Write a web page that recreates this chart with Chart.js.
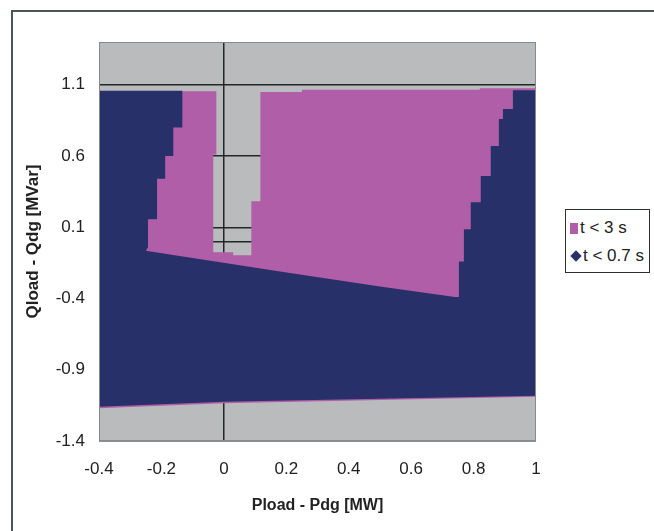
<!DOCTYPE html>
<html>
<head>
<meta charset="utf-8">
<script src="https://cdn.jsdelivr.net/npm/chart.js@4/dist/chart.umd.min.js"></script>
<style>
  html, body { margin: 0; padding: 0; background: #fff; overflow: hidden; }
  #wrap { position: relative; width: 654px; height: 531px; }
  #frame { position: absolute; left: 11px; top: 10px; width: 700px; height: 600px;
           border: 2px solid #4b5555; box-sizing: border-box; }
  canvas { position: absolute; left: 0; top: 0; }
  #legend { position: absolute; left: 565px; top: 209px; width: 85px; height: 64px;
            border: 1.5px solid #2a2f2f; box-sizing: border-box; background: #fff;
            font-family: "Liberation Sans", Arial, sans-serif; font-size: 17px; color: #222; }
  .item { position: absolute; left: 4px; height: 20px; line-height: 20px; white-space: nowrap; }
  .sq { display: inline-block; width: 8px; height: 11px; margin-right: 2px; vertical-align: -1px; }
  .dm { display: inline-block; width: 8px; height: 8px; margin: 0 3px 0 2px; transform: rotate(45deg); vertical-align: 1px; }
</style>
</head>
<body>
<div id="wrap">
  <div id="frame"></div>
  <canvas id="chart" width="654" height="531"></canvas>
  <div id="legend"></div>
</div>
<script>
// tick values of both axes
const xTicks = [-0.4, -0.2, 0, 0.2, 0.4, 0.6, 0.8, 1];
const yTicks = [-1.4, -0.9, -0.4, 0.1, 0.6, 1.1];

// outline of the t < 3 s region
const slowX = [-0.4, -0.4, -0.024, -0.024, -0.034, -0.034, 0.03, 0.03, 0.088, 0.088, 0.117, 0.117, 0.25, 0.25, 0.82, 0.82, 1.0, 1.0, 0.0];
const slowY = [-1.17, 1.055, 1.055, 0.61, 0.61, -0.076, -0.076, -0.097, -0.097, 0.283, 0.283, 1.05, 1.05, 1.065, 1.065, 1.075, 1.075, -1.09, -1.135];

// outline of the t < 0.7 s region
const fastX = [-0.4, -0.4, -0.133, -0.133, -0.162, -0.162, -0.188, -0.188, -0.214, -0.214, -0.243, -0.243, -0.25,
  0.18, 0.5, 0.74, 0.753, 0.753, 0.769, 0.769, 0.791, 0.791, 0.823, 0.823, 0.855, 0.855, 0.881, 0.881, 0.894, 0.894,
  0.926, 0.926, 1.0, 1.0, 0.0];
const fastY = [-1.16, 1.058, 1.058, 0.80, 0.80, 0.60, 0.60, 0.44, 0.44, 0.157, 0.157, -0.04, -0.065,
  -0.21, -0.315, -0.39, -0.39, -0.14, -0.14, 0.086, 0.086, 0.276, 0.276, 0.46, 0.46, 0.67, 0.67, 0.86, 0.86, 0.93,
  0.93, 1.062, 1.062, -1.083, -1.125];

const seriesLabels = ["t < 3 s", "t < 0.7 s"];
const pink = "#b15ea9";
const navy = "#28306a";
const gridDark = "#1f2928";

const toPoints = (xs, ys) => xs.map((x, i) => ({ x: x, y: ys[i] }));

const plotBox = {
  id: "plotBox",
  beforeDraw(chart) {
    const a = chart.chartArea;
    const ctx = chart.ctx;
    ctx.save();
    ctx.fillStyle = "#b9bbbc";
    ctx.fillRect(a.left, a.top, a.right - a.left, a.bottom - a.top);
    ctx.restore();
  },
  afterDatasetsDraw(chart) {
    const a = chart.chartArea;
    const ctx = chart.ctx;
    ctx.save();
    ctx.strokeStyle = "#858b8b";
    ctx.lineWidth = 1;
    ctx.strokeRect(a.left + 0.5, a.top + 0.5, a.right - a.left - 1, a.bottom - a.top - 1);
    ctx.restore();
  }
};

const tickFont = { family: "Liberation Sans, Arial, sans-serif", size: 17 };

const chart = new Chart(document.getElementById("chart"), {
  type: "scatter",
  data: {
    datasets: [
      { label: seriesLabels[0], data: toPoints(slowX, slowY), showLine: true, fill: "shape",
        backgroundColor: pink, borderWidth: 0, pointRadius: 0, order: 2, tension: 0 },
      { label: seriesLabels[1], data: toPoints(fastX, fastY), showLine: true, fill: "shape",
        backgroundColor: navy, borderWidth: 0, pointRadius: 0, order: 1, tension: 0 }
    ]
  },
  options: {
    responsive: false,
    animation: false,
    layout: { padding: { left: 0, right: 118, top: 42, bottom: 0 } },
    plugins: { legend: { display: false }, tooltip: { enabled: false } },
    scales: {
      x: {
        type: "linear", min: -0.4, max: 1,
        afterBuildTicks: s => { s.ticks = xTicks.map(v => ({ value: v })); },
        afterFit: s => { s.height = 90; },
        border: { display: false },
        grid: { drawTicks: false, lineWidth: 1.5,
                color: c => (c.tick && c.tick.value === 0 ? gridDark : "rgba(0,0,0,0)") },
        ticks: { padding: 18, color: "#222", font: tickFont, maxRotation: 0,
                 callback: v => String(Math.round(v * 10) / 10) },
        title: { display: true, text: "Pload - Pdg [MW]", color: "#222",
                 font: { family: "Liberation Sans, Arial, sans-serif", size: 16, weight: "bold" },
                 padding: { top: 0, bottom: 16 } }
      },
      y: {
        type: "linear", min: -1.4, max: 1.4,
        afterBuildTicks: s => { s.ticks = yTicks.concat([0]).map(v => ({ value: v })); },
        afterFit: s => { s.width = 99; },
        border: { display: false },
        grid: { drawTicks: false, lineWidth: 1.5, color: gridDark },
        ticks: { padding: 14, color: "#222", font: tickFont,
                 callback: v => (v === 0 ? "" : (Math.round(v * 10) / 10).toFixed(1)) },
        title: { display: true, text: "Qload - Qdg [MVar]", color: "#222",
                 font: { family: "Liberation Sans, Arial, sans-serif", size: 17, weight: "bold" },
                 padding: { top: 23, bottom: 0 } }
      }
    }
  },
  plugins: [plotBox]
});

// legend box drawn beside the chart, like the spreadsheet one
const legend = document.getElementById("legend");
chart.data.datasets.forEach((ds, i) => {
  const item = document.createElement("div");
  item.className = "item";
  item.style.top = (i === 0 ? 8 : 36) + "px";
  const mark = document.createElement("span");
  mark.className = i === 0 ? "sq" : "dm";
  mark.style.background = ds.backgroundColor;
  item.appendChild(mark);
  item.appendChild(document.createTextNode(ds.label));
  legend.appendChild(item);
});
</script>
</body>
</html>
